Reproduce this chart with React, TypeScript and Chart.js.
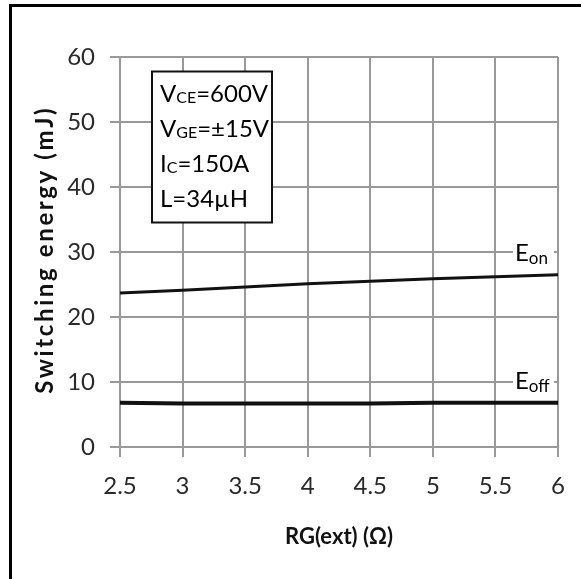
import React, { useEffect, useRef } from 'react';
import { Chart, registerables } from 'chart.js';

Chart.register(...registerables);

// ---- data ----
const rgValues = [2.5, 3, 3.5, 4, 4.5, 5, 5.5, 6];
const eonValues = [23.7, 24.1, 24.6, 25.1, 25.5, 25.9, 26.2, 26.5];
const eoffValues = [6.8, 6.7, 6.7, 6.7, 6.7, 6.8, 6.8, 6.8];

const xTickValues = [2.5, 3, 3.5, 4, 4.5, 5, 5.5, 6];
const xTickLabels = ['2.5', '3', '3.5', '4', '4.5', '5', '5.5', '6'];
const yTickValues = [0, 10, 20, 30, 40, 50, 60];
const yTickLabels = ['0', '10', '20', '30', '40', '50', '60'];

const seriesMain = ['E', 'E'];
const seriesSub = ['on', 'off'];
const seriesLabelY = [30, 10.2];

const condMain = ['V', 'V', 'I', 'L'];
const condSub = ['CE', 'GE', 'C', ''];
const condRest = ['=600V', '=±15V', '=150A', '=34µH'];

const xTitle = 'RG(ext) (Ω)';
const yTitle = 'Switching energy (mJ)';

const FONT = "Lato, 'Open Sans', sans-serif";

const decorPlugin = {
  id: 'decor',
  beforeDraw(chart: any) {
    const ctx = chart.ctx;
    ctx.save();
    ctx.fillStyle = '#ffffff';
    ctx.fillRect(0, 0, chart.width, chart.height);
    ctx.fillStyle = '#000000';
    ctx.fillRect(9, 4, 3, chart.height - 4);
    ctx.fillRect(9, 4, chart.width - 9, 3);
    ctx.restore();
  },
  afterDraw(chart: any) {
    const ctx = chart.ctx;
    const area = chart.chartArea;
    const ys = chart.scales.y;

    // y axis title
    ctx.save();
    ctx.font = `bold 24px ${FONT}`;
    const w0 = ctx.measureText(yTitle).width;
    const target = 288;
    const spacing = Math.max(0, (target - w0) / yTitle.length);
    (ctx as any).letterSpacing = `${spacing}px`;
    ctx.fillStyle = '#111111';
    ctx.translate(45, (area.top + area.bottom) / 2 - 1);
    ctx.rotate(-Math.PI / 2);
    ctx.textAlign = 'center';
    ctx.textBaseline = 'middle';
    ctx.fillText(yTitle, spacing / 2, 0);
    ctx.restore();

    // conditions box
    const bx = area.left + 32;
    const by = area.top + 14.5;
    const bw = 120;
    const bh = 151;
    ctx.save();
    ctx.fillStyle = '#ffffff';
    ctx.fillRect(bx, by, bw, bh);
    ctx.strokeStyle = '#111111';
    ctx.lineWidth = 2;
    ctx.strokeRect(bx, by, bw, bh);
    ctx.fillStyle = '#000000';
    ctx.textBaseline = 'alphabetic';
    ctx.textAlign = 'left';
    for (let i = 0; i < condMain.length; i++) {
      const base = by + 30 + i * 35;
      let x = bx + 8;
      ctx.font = `24px ${FONT}`;
      ctx.fillText(condMain[i], x, base);
      x += ctx.measureText(condMain[i]).width;
      if (condSub[i]) {
        ctx.font = `16px ${FONT}`;
        ctx.fillText(condSub[i], x, base + 1);
        x += ctx.measureText(condSub[i]).width;
      }
      ctx.font = `24px ${FONT}`;
      ctx.fillText(condRest[i], x, base);
    }
    ctx.restore();

    // series labels
    ctx.save();
    for (let i = 0; i < seriesMain.length; i++) {
      const cy = ys.getPixelForValue(seriesLabelY[i]);
      const lx = area.right - 45;
      ctx.fillStyle = '#ffffff';
      ctx.fillRect(lx, cy - 13, 41, 27);
      ctx.fillStyle = '#000000';
      ctx.textAlign = 'left';
      ctx.textBaseline = 'alphabetic';
      ctx.font = `24px ${FONT}`;
      ctx.fillText(seriesMain[i], lx + 2, cy + 8.5);
      const ew = ctx.measureText(seriesMain[i]).width;
      ctx.font = `17px ${FONT}`;
      ctx.fillText(seriesSub[i], lx + 2 + ew, cy + 11.5);
    }
    ctx.restore();
  },
};

export default function App() {
  const ref = useRef<HTMLCanvasElement | null>(null);

  useEffect(() => {
    if (!ref.current) return;
    const chart = new Chart(ref.current, {
      type: 'line',
      data: {
        datasets: [
          {
            label: 'Eon',
            data: rgValues.map((x, i) => ({ x, y: eonValues[i] })),
            borderColor: '#111111',
            borderWidth: 3,
            pointRadius: 0,
            tension: 0,
          },
          {
            label: 'Eoff',
            data: rgValues.map((x, i) => ({ x, y: eoffValues[i] })),
            borderColor: '#111111',
            borderWidth: 4,
            pointRadius: 0,
            tension: 0,
          },
        ],
      },
      options: {
        responsive: false,
        animation: false,
        devicePixelRatio: 1,
        layout: { padding: { top: 57, right: 23, left: 0, bottom: 0 } },
        plugins: {
          legend: { display: false },
          tooltip: { enabled: false },
        },
        scales: {
          x: {
            type: 'linear',
            min: 2.5,
            max: 6,
            afterBuildTicks: (s: any) => {
              s.ticks = xTickValues.map((v) => ({ value: v }));
            },
            afterFit: (s: any) => {
              s.height = 132;
            },
            ticks: {
              autoSkip: false,
              maxRotation: 0,
              padding: 15,
              color: '#2a2a2a',
              font: { family: FONT, size: 24 },
              callback: (v: any) => {
                const i = xTickValues.indexOf(Number(v));
                return i >= 0 ? xTickLabels[i] : '';
              },
            },
            grid: { color: '#999999', lineWidth: 2, tickLength: 10, drawTicks: true },
            border: { color: '#999999', width: 2 },
            title: {
              display: true,
              text: xTitle,
              color: '#111111',
              font: { family: FONT, size: 22, weight: 'bold' },
              padding: { top: 0, bottom: 29 },
            },
          },
          y: {
            type: 'linear',
            min: 0,
            max: 60,
            afterBuildTicks: (s: any) => {
              s.ticks = yTickValues.map((v) => ({ value: v }));
            },
            afterFit: (s: any) => {
              s.width = 120;
            },
            ticks: {
              padding: 15,
              color: '#2a2a2a',
              font: { family: FONT, size: 24 },
              callback: (v: any) => {
                const i = yTickValues.indexOf(Number(v));
                return i >= 0 ? yTickLabels[i] : '';
              },
            },
            grid: { color: '#999999', lineWidth: 2, tickLength: 10, drawTicks: true },
            border: { color: '#999999', width: 2 },
          },
        },
      },
      plugins: [decorPlugin],
    } as any);
    return () => chart.destroy();
  }, []);

  return (
    <div style={{ position: 'absolute', left: 0, top: 0, width: 581, height: 579 }}>
      <canvas ref={ref} width={581} height={579} style={{ width: 581, height: 579, display: 'block' }} />
    </div>
  );
}
